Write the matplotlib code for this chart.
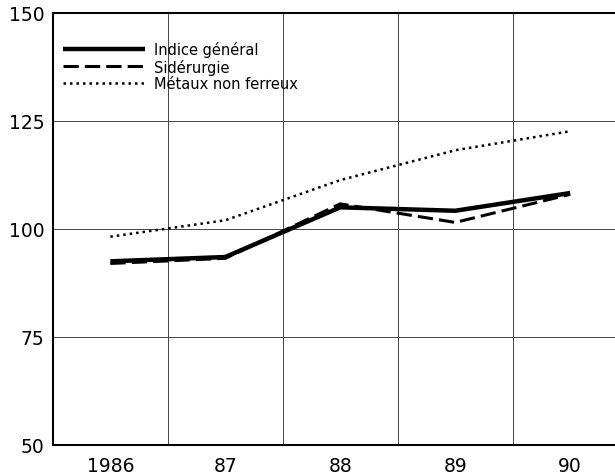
import numpy as np
import matplotlib.pyplot as plt

plt.rcParams['font.family'] = ['DejaVu Sans']

# =========================
# DATA
# =========================
years = ["1986", "87", "88", "89", "90"]
indice_general = [92.5, 93.5, 105.0, 104.2, 108.3]
siderurgie = [92.0, 93.2, 105.8, 101.5, 108.0]
metaux = [98.2, 102.0, 111.3, 118.2, 122.6]

# =========================
# PLOT
# =========================
fig = plt.figure(figsize=(6.15, 4.77), dpi=100)
ax = fig.add_axes([0.086, 0.065, 0.914, 0.906])

x = np.arange(len(years))

ax.plot(x, indice_general, color="black", lw=3.2, solid_capstyle="butt",
        label="Indice général")
ax.plot(x, siderurgie, color="black", lw=2.2, linestyle=(0, (5, 2)),
        label="Sidérurgie")
ax.plot(x, metaux, color="black", lw=1.8, linestyle=(0, (1, 1.6)),
        label="Métaux non ferreux")

ax.set_xlim(-0.5, 4.39)
ax.set_ylim(50, 150)
ax.set_yticks([50, 75, 100, 125, 150])
ax.set_xticks(x)
ax.set_xticklabels(years)
ax.tick_params(length=0, labelsize=13.5)
ax.tick_params(axis="x", pad=8)
ax.tick_params(axis="y", pad=6)

# grid: horizontal at the y ticks, vertical between years
for yv in [75, 100, 125]:
    ax.axhline(yv, color="#444444", lw=0.7, zorder=0)
for xv in x[:-1] + 0.5:
    ax.axvline(xv, color="#444444", lw=0.7, zorder=0)

for s in ["left", "top", "bottom"]:
    ax.spines[s].set_linewidth(1.5)
ax.spines["right"].set_visible(False)

leg = ax.legend(loc="upper left", bbox_to_anchor=(-0.005, 0.965), frameon=False,
                fontsize=10.5, handlelength=5.6, handletextpad=0.6,
                labelspacing=0.1)

fig.savefig("out.png", dpi=100)
